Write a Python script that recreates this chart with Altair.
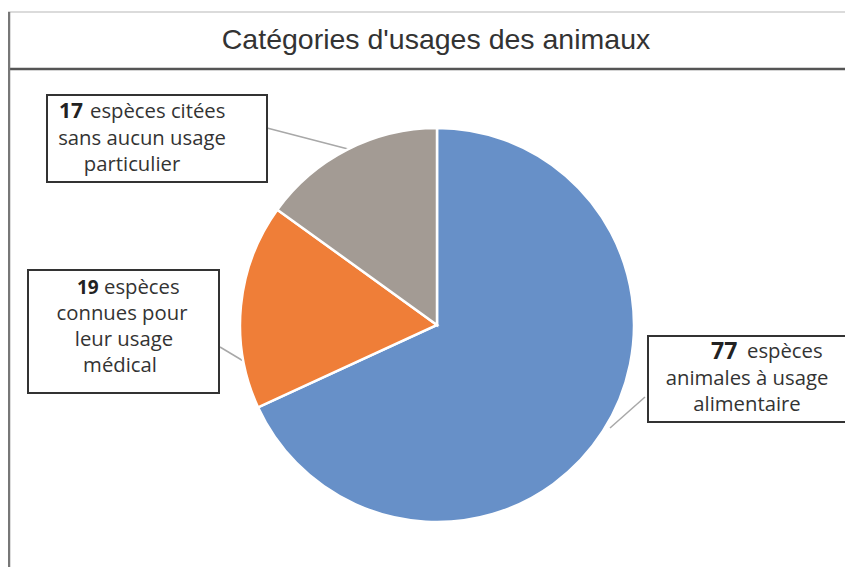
import altair as alt
import pandas as pd

# ---- data ----
categories = ["alimentaire", "médical", "sans usage"]
counts = [77, 19, 17]
colors = ["#6790c8", "#ef7e38", "#a39b94"]

# label lines (bold number, rest of first line, following lines)
label_numbers = ["77", "19", "17"]
label_first = ["espèces", "espèces", "espèces citées"]
label_rest = [["animales à usage", "alimentaire"],
              ["connues pour", "leur usage", "médical"],
              ["sans aucun usage", "particulier"]]
title_text = "Catégories d'usages des animaux"

# ---- layout (page pixels) ----
OX, OY = 8, 8
W, H = 837, 559
CX, CY, R = 437, 325, 197

# boxes: x0, y0, x1, y1
boxes = [(648, 336, 847, 422), (28, 270, 219, 393), (47, 95, 267, 182)]
# leader lines: box end -> pie end
leaders = [(645, 397, 610, 428), (220, 347, 245, 362), (267, 128, 348, 149)]
# number position (left x), number size, first-line rest left x, line y's, rest centers
num_x = [711, 77, 59]
num_size = [23, 19, 21]
first_x = [747, 104, 90]
line_y = [[352, 379, 405], [288, 314, 340, 366], [112, 139, 165]]
rest_cx = [[747, 747], [122, 124, 120], [142, 132]]

FONT = "Open Sans"
FS = 20.3

pie_df = pd.DataFrame({"category": categories, "count": counts, "order": list(range(len(counts)))})

xs = alt.Scale(domain=[0, W], range=[0, W])
ys = alt.Scale(domain=[0, H], range=[0, H])

pie = alt.Chart(pie_df).mark_arc(outerRadius=R, stroke="white", strokeWidth=2.5).encode(
    theta=alt.Theta("count:Q", stack=True),
    order=alt.Order("order:Q"),
    color=alt.Color("category:N", scale=alt.Scale(domain=categories, range=colors), legend=None),
    x=alt.value(CX - OX),
    y=alt.value(CY - OY),
)

box_df = pd.DataFrame({
    "x0": [b[0] - OX for b in boxes], "y0": [b[1] - OY for b in boxes],
    "x1": [b[2] - OX for b in boxes], "y1": [b[3] - OY for b in boxes],
})
box_layer = alt.Chart(box_df).mark_rect(fill="white", stroke="#333333", strokeWidth=2).encode(
    x=alt.X("x0:Q", scale=xs, axis=None), x2="x1:Q",
    y=alt.Y("y0:Q", scale=ys, axis=None), y2="y1:Q",
)

lead_df = pd.DataFrame({
    "x0": [l[0] - OX for l in leaders], "y0": [l[1] - OY for l in leaders],
    "x1": [l[2] - OX for l in leaders], "y1": [l[3] - OY for l in leaders],
})
lead_layer = alt.Chart(lead_df).mark_rule(stroke="#a8a8a8", strokeWidth=1.5).encode(
    x=alt.X("x0:Q", scale=xs, axis=None), x2="x1:Q",
    y=alt.Y("y0:Q", scale=ys, axis=None), y2="y1:Q",
)

num_rows, first_rows, rest_rows = [], [], []
for i in range(len(categories)):
    num_rows.append({"t": label_numbers[i], "x": num_x[i] - OX, "y": line_y[i][0] - OY, "fs": num_size[i]})
    first_rows.append({"t": label_first[i], "x": first_x[i] - OX, "y": line_y[i][0] - OY})
    for j, line in enumerate(label_rest[i]):
        rest_rows.append({"t": line, "x": rest_cx[i][j] - OX, "y": line_y[i][j + 1] - OY})

num_layer = alt.Chart(pd.DataFrame(num_rows)).mark_text(
    font=FONT, fontWeight="bold", align="left", baseline="middle", color="#222222"
).encode(
    x=alt.X("x:Q", scale=xs, axis=None), y=alt.Y("y:Q", scale=ys, axis=None),
    text="t:N", size=alt.Size("fs:Q", scale=None, legend=None),
)
first_layer = alt.Chart(pd.DataFrame(first_rows)).mark_text(
    font=FONT, fontSize=FS, align="left", baseline="middle", color="#333333"
).encode(
    x=alt.X("x:Q", scale=xs, axis=None), y=alt.Y("y:Q", scale=ys, axis=None), text="t:N",
)
rest_layer = alt.Chart(pd.DataFrame(rest_rows)).mark_text(
    font=FONT, fontSize=FS, align="center", baseline="middle", color="#333333"
).encode(
    x=alt.X("x:Q", scale=xs, axis=None), y=alt.Y("y:Q", scale=ys, axis=None), text="t:N",
)

title_layer = alt.Chart(pd.DataFrame({"t": [title_text]})).mark_text(
    font="Liberation Sans", fontSize=28.5, align="center", baseline="middle", color="#333333"
).encode(text="t:N", x=alt.value(436 - OX), y=alt.value(40 - OY))

frame_top = alt.Chart(pd.DataFrame({"a": [0]})).mark_rule(stroke="#cfcfcf", strokeWidth=1.5).encode(
    x=alt.value(0), x2=alt.value(W), y=alt.value(12 - OY))
frame_title = alt.Chart(pd.DataFrame({"a": [0]})).mark_rule(stroke="#555555", strokeWidth=2.5).encode(
    x=alt.value(0), x2=alt.value(W), y=alt.value(69 - OY))
frame_left = alt.Chart(pd.DataFrame({"a": [0]})).mark_rule(stroke="#777777", strokeWidth=2.5).encode(
    x=alt.value(9 - OX), y=alt.value(12 - OY), y2=alt.value(H))

chart = alt.layer(
    frame_top, frame_title, frame_left, title_layer,
    lead_layer, pie, box_layer, num_layer, first_layer, rest_layer,
).properties(
    width=W, height=H, autosize=alt.AutoSizeParams(type="none"), padding=0,
).configure_view(stroke=None)

chart.save("out.html", embed_options={"renderer": "svg", "actions": False})
